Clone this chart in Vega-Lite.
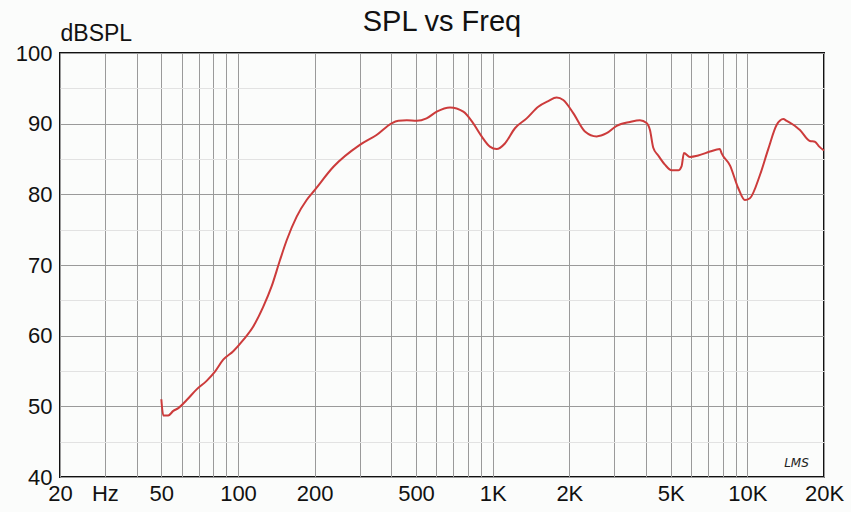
{
  "$schema": "https://vega.github.io/schema/vega-lite/v6.json",
  "width": 764,
  "height": 424,
  "autosize": {"type": "none"},
  "padding": {"left": 60, "top": 53, "right": 27, "bottom": 35},
  "background": "#fbfcfb",
  "config": {
    "font": "Liberation Sans",
    "view": {"stroke": "#111111", "strokeWidth": 2, "fill": "#fbfcfb"}
  },
  "title": {
    "text": "SPL vs Freq",
    "fontSize": 29,
    "fontWeight": "normal",
    "font": "Liberation Sans",
    "color": "#111111",
    "anchor": "middle",
    "frame": "group",
    "baseline": "alphabetic",
    "offset": 23,
    "dy": 61
  },
  "data": {
    "values": [
      {"f": 50, "db": 51.0},
      {"f": 50.9, "db": 48.7},
      {"f": 53.2, "db": 48.7},
      {"f": 55.7, "db": 49.35},
      {"f": 58.3, "db": 49.75},
      {"f": 62.9, "db": 50.9},
      {"f": 68.8, "db": 52.4},
      {"f": 75.3, "db": 53.6},
      {"f": 81.2, "db": 54.9},
      {"f": 87.5, "db": 56.6},
      {"f": 95.8, "db": 57.8},
      {"f": 104.9, "db": 59.4},
      {"f": 114.8, "db": 61.3},
      {"f": 125.7, "db": 64.1},
      {"f": 135.6, "db": 67.0},
      {"f": 146.2, "db": 70.7},
      {"f": 155.3, "db": 73.5},
      {"f": 170, "db": 76.85},
      {"f": 186, "db": 79.2},
      {"f": 200, "db": 80.6},
      {"f": 237, "db": 83.9},
      {"f": 301, "db": 87.0},
      {"f": 350, "db": 88.4},
      {"f": 401, "db": 90.05},
      {"f": 426, "db": 90.4},
      {"f": 460, "db": 90.5},
      {"f": 503, "db": 90.4},
      {"f": 550, "db": 90.75},
      {"f": 603, "db": 91.7},
      {"f": 680, "db": 92.3},
      {"f": 767, "db": 91.7},
      {"f": 839, "db": 90.05},
      {"f": 905, "db": 88.2},
      {"f": 975, "db": 86.75},
      {"f": 1037, "db": 86.4},
      {"f": 1117, "db": 87.2},
      {"f": 1223, "db": 89.35},
      {"f": 1360, "db": 90.75},
      {"f": 1510, "db": 92.4},
      {"f": 1652, "db": 93.2},
      {"f": 1783, "db": 93.7},
      {"f": 1893, "db": 93.35},
      {"f": 2072, "db": 91.5},
      {"f": 2303, "db": 88.9},
      {"f": 2560, "db": 88.2},
      {"f": 2802, "db": 88.65},
      {"f": 3068, "db": 89.7},
      {"f": 3460, "db": 90.25},
      {"f": 3786, "db": 90.5},
      {"f": 4023, "db": 90.1},
      {"f": 4146, "db": 89.1},
      {"f": 4272, "db": 86.6},
      {"f": 4467, "db": 85.5},
      {"f": 4746, "db": 84.2},
      {"f": 5044, "db": 83.4},
      {"f": 5354, "db": 83.4},
      {"f": 5521, "db": 84.0},
      {"f": 5636, "db": 85.85},
      {"f": 5950, "db": 85.3},
      {"f": 6414, "db": 85.5},
      {"f": 7130, "db": 86.05},
      {"f": 7800, "db": 86.4},
      {"f": 7926, "db": 85.8},
      {"f": 8544, "db": 84.1},
      {"f": 9206, "db": 80.9},
      {"f": 9780, "db": 79.2},
      {"f": 10234, "db": 79.45},
      {"f": 11200, "db": 82.7},
      {"f": 12080, "db": 86.4},
      {"f": 13030, "db": 89.8},
      {"f": 13840, "db": 90.65},
      {"f": 14260, "db": 90.4},
      {"f": 15610, "db": 89.5},
      {"f": 16090, "db": 89.1},
      {"f": 17600, "db": 87.55},
      {"f": 18420, "db": 87.45},
      {"f": 19160, "db": 86.75},
      {"f": 20000, "db": 86.2}
    ]
  },
  "mark": {"type": "line", "color": "#cc3b3b", "strokeWidth": 2, "interpolate": "monotone"},
  "encoding": {
    "x": {
      "field": "f",
      "type": "quantitative",
      "scale": {"type": "log", "domain": [20, 20000], "nice": false},
      "axis": {
        "values": [20, 30, 40, 50, 60, 70, 80, 90, 100, 200, 300, 400, 500, 600, 700, 800, 900, 1000, 2000, 3000, 4000, 5000, 6000, 7000, 8000, 9000, 10000, 20000],
        "labelExpr": "datum.value == 20 ? '20' : datum.value == 30 ? 'Hz' : datum.value == 50 ? '50' : datum.value == 100 ? '100' : datum.value == 200 ? '200' : datum.value == 500 ? '500' : datum.value == 1000 ? '1K' : datum.value == 2000 ? '2K' : datum.value == 5000 ? '5K' : datum.value == 10000 ? '10K' : datum.value == 20000 ? '20K' : ''",
        "labelOverlap": false,
        "labelFlush": false,
        "labelBound": false,
        "labelFontSize": 22,
        "labelColor": "#111111",
        "labelPadding": 6,
        "ticks": false,
        "domain": false,
        "grid": true,
        "gridColor": "#9a9a9a",
        "gridWidth": 1,
        "gridOpacity": 1,
        "title": "LMS",
        "titleFont": "DejaVu Sans",
        "titleFontStyle": "italic",
        "titleFontWeight": "normal",
        "titleFontSize": 12,
        "titleColor": "#222222",
        "titleX": 736,
        "titleY": -11,
        "titleAlign": "center",
        "titleBaseline": "alphabetic"
      }
    },
    "y": {
      "field": "db",
      "type": "quantitative",
      "scale": {"domain": [40, 100], "nice": false, "zero": false},
      "axis": {
        "values": [40, 45, 50, 55, 60, 65, 70, 75, 80, 85, 90, 95, 100],
        "labelExpr": "datum.value % 10 === 0 ? datum.label : ''",
        "labelFontSize": 22,
        "labelColor": "#111111",
        "labelPadding": 8,
        "ticks": false,
        "domain": false,
        "grid": true,
        "gridColor": {"condition": {"test": "datum.value % 10 === 0", "value": "#9a9a9a"}, "value": "#e2e2e2"},
        "gridOpacity": 1,
        "title": "dBSPL",
        "titleAngle": 0,
        "titleX": 0,
        "titleY": -13,
        "titleAlign": "left",
        "titleBaseline": "alphabetic",
        "titleFontSize": 23,
        "titleFontWeight": "normal",
        "titleColor": "#111111"
      }
    }
  }
}
